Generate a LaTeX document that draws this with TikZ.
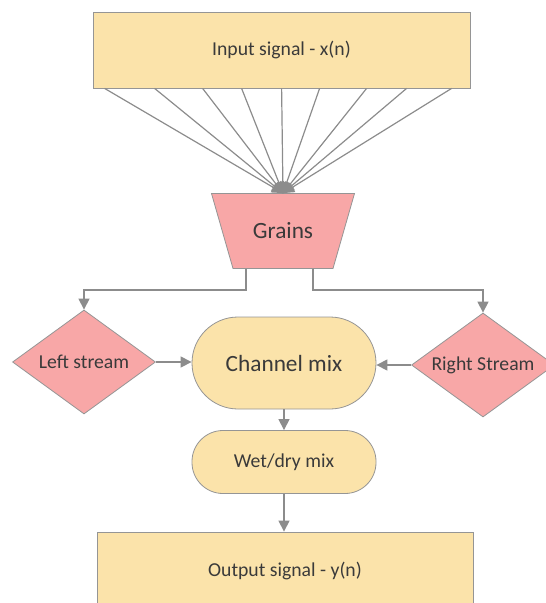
\documentclass[tikz,border=0pt]{standalone}
\usepackage{fontspec}
\setmainfont{Carlito}
\usetikzlibrary{shapes.geometric,arrows.meta}
\definecolor{boxyellow}{HTML}{FBE3AA}
\definecolor{boxpink}{HTML}{F8A7A7}
\definecolor{edgegray}{HTML}{959595}
\definecolor{linegray}{HTML}{8C8C8C}
\definecolor{textgray}{HTML}{3A3A3A}

\begin{document}
\begin{tikzpicture}[x=1pt, y=-1pt,
    base/.style={draw=edgegray, line width=0.8pt, text=textgray, inner sep=0pt,
      font=\fontsize{19.7}{22}\selectfont},
    sigbox/.style={base, fill=boxyellow, rectangle, minimum width=377pt, minimum height=76pt},
    mixbox/.style={base, fill=boxyellow, rectangle, minimum width=184pt},
    streambox/.style={base, fill=boxpink, diamond, aspect=1.37, minimum width=143pt, minimum height=104pt},
    grainshape/.style={draw=edgegray, line width=0.8pt, fill=boxpink},
    grainbox/.style={base, draw=none, rectangle, minimum width=100pt, minimum height=75pt,
      font=\fontsize{23.3}{26}\selectfont},
    conn/.style={draw=linegray, line width=1.2pt, -{Triangle[length=11pt, width=11pt]}}
  ]
    \useasboundingbox (0,0) rectangle (546,603);
    \clip (0,0) rectangle (546,603);

    % Input signal
    \node[sigbox] (input) at (281.5,50) {Input signal - x(n)};

    % Grains (trapezoid, wide side on top)
    \coordinate (gc) at (283,231);
    \draw[grainshape] ([shift={(-71.5,-37.5)}]gc) -- ([shift={(71.5,-37.5)}]gc)
      -- ([shift={(50,37.5)}]gc) -- ([shift={(-50,37.5)}]gc) -- cycle;
    \node[grainbox] (grains) at (gc) {Grains};

    % Fan of grains
    \foreach \d in {12,62,110,149,189,227,274,314,359}
      \draw[conn] ([xshift=\d pt]input.south west) -- (grains.north);

    % Streams
    \node[streambox] (left) at (84,362) {Left stream};
    \node[streambox] (right) at (483,365) {Right Stream};

    % Mixing stages
    \node[mixbox, minimum height=92pt, rounded corners=46pt,
      font=\fontsize{23.3}{26}\selectfont] (channel) at (284,363) {Channel mix};
    \node[mixbox, minimum height=63pt, rounded corners=31pt] (wet) at (284,462) {Wet/dry mix};

    % Output
    \node[sigbox, minimum width=376pt, minimum height=78pt] (output) at (285,571) {Output signal - y(n)};

    % Connectors
    \draw[conn] ([xshift=-37pt]grains.south) -- ++(0,21) -| (left.north);
    \draw[conn] ([xshift=30pt]grains.south) -- ++(0,21) -| (right.north);
    \draw[conn] (left.east) -- (left.east -| channel.west);
    \draw[conn] (right.west) -- (right.west -| channel.east);
    \draw[conn] (channel.south) -- (wet.north);
    \draw[conn] (wet.south) -- (wet.south |- output.north);
  \end{tikzpicture}
\end{document}
